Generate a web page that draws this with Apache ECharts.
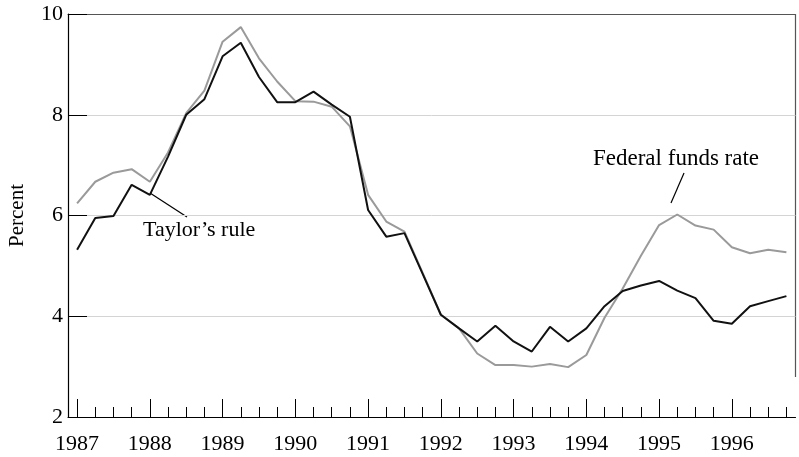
<!DOCTYPE html>
<html>
<head>
<meta charset="utf-8">
<script src="https://cdn.jsdelivr.net/npm/echarts@6/dist/echarts.min.js"></script>
<style>
html,body{margin:0;padding:0;background:#fff;}
#chart{width:799px;height:457px;}
</style>
</head>
<body>
<div id="chart"></div>
<script>
// Quarterly periods 1987Q1 .. 1996Q4
const years = [1987,1988,1989,1990,1991,1992,1993,1994,1995,1996];
const quarters = [];
years.forEach(y => { for (let q = 1; q <= 4; q++) quarters.push(y + ' Q' + q); });

const taylorRule = [
  5.32, 5.95, 5.99, 6.61,
  6.41, 7.17, 8.00, 8.31,
  9.16, 9.43, 8.75, 8.25,
  8.25, 8.46, 8.20, 7.96,
  6.11, 5.58, 5.65, 4.84,
  4.03, 3.76, 3.50, 3.81,
  3.50, 3.30, 3.79, 3.50,
  3.76, 4.20, 4.50, 4.61,
  4.70, 4.51, 4.36, 3.91,
  3.85, 4.20, 4.30, 4.40
];
const fedFundsRate = [
  6.24, 6.67, 6.85, 6.92,
  6.67, 7.25, 8.03, 8.48,
  9.45, 9.74, 9.12, 8.66,
  8.27, 8.26, 8.16, 7.77,
  6.41, 5.88, 5.68, 4.86,
  4.03, 3.76, 3.26, 3.03,
  3.03, 3.00, 3.05, 2.99,
  3.23, 3.97, 4.55, 5.20,
  5.81, 6.02, 5.80, 5.72,
  5.37, 5.25, 5.32, 5.27
];
const yTicks = [2, 4, 6, 8, 10];

const FONT = '"Liberation Serif", "DejaVu Serif", serif';
const chart = echarts.init(document.getElementById('chart'));

chart.setOption({
  animation: false,
  backgroundColor: '#ffffff',
  grid: { left: 68, right: 3.5, top: 14, bottom: 40, containLabel: false, outerBoundsMode: 'none' },
  xAxis: [
    { // minor quarter ticks
      type: 'category', data: quarters, position: 'bottom', boundaryGap: true,
      axisLine: { show: true, lineStyle: { color: '#000', width: 1.2 } },
      axisTick: { show: true, inside: true, length: 10, alignWithLabel: true, interval: 0, lineStyle: { color: '#000', width: 1 } },
      axisLabel: { show: false }, splitLine: { show: false }
    },
    { // year ticks + labels
      type: 'category', data: quarters, position: 'bottom', boundaryGap: true,
      axisLine: { show: false },
      axisTick: { show: true, inside: true, length: 18, alignWithLabel: true,
        interval: (i) => i % 4 === 0, lineStyle: { color: '#000', width: 1 } },
      axisLabel: { show: true, interval: (i) => i % 4 === 0, margin: 16,
        formatter: (v) => v.slice(0, 4),
        fontFamily: FONT, fontSize: 22, color: '#000' },
      splitLine: { show: false }
    },
    { // top border
      type: 'category', data: quarters, position: 'top', boundaryGap: true,
      axisLine: { show: true, lineStyle: { color: '#555', width: 1.2 } },
      axisTick: { show: false }, axisLabel: { show: false }, splitLine: { show: false }
    }
  ],
  yAxis: {
    type: 'value', min: yTicks[0], max: yTicks[yTicks.length - 1], interval: 2,
    name: 'Percent', nameLocation: 'middle', nameGap: 40, nameRotate: 90,
    nameTextStyle: { fontFamily: FONT, fontSize: 21, color: '#000' },
    axisLine: { show: true, lineStyle: { color: '#000', width: 1.2 } },
    axisTick: { show: true, inside: true, length: 19, lineStyle: { color: '#000', width: 1 } },
    axisLabel: { fontFamily: FONT, fontSize: 22, color: '#000', margin: 5 },
    splitLine: { show: true, lineStyle: { color: '#d4d4d4', width: 1 } }
  },
  series: [
    {
      name: 'Federal funds rate', type: 'line', data: fedFundsRate,
      xAxisIndex: 0, symbol: 'none', z: 2,
      lineStyle: { color: '#9a9a9a', width: 2 }
    },
    {
      name: "Taylor's rule", type: 'line', data: taylorRule,
      xAxisIndex: 0, symbol: 'none', z: 3,
      lineStyle: { color: '#111', width: 2 }
    }
  ],
  graphic: [
    { type: 'line', shape: { x1: 795.5, y1: 14, x2: 795.5, y2: 377 }, style: { stroke: '#555', lineWidth: 1.2 } },
    { type: 'line', shape: { x1: 150, y1: 193, x2: 187, y2: 217 }, style: { stroke: '#000', lineWidth: 1.2 } },
    { type: 'text', left: 143, top: 219, style: { text: "Taylor\u2019s rule", font: '22px "Liberation Serif", serif', fill: '#000' } },
    { type: 'line', shape: { x1: 684, y1: 173, x2: 671, y2: 203 }, style: { stroke: '#000', lineWidth: 1.2 } },
    { type: 'text', left: 593, top: 147, style: { text: 'Federal funds rate', font: '23px "Liberation Serif", serif', fill: '#000' } }
  ]
});
</script>
</body>
</html>
